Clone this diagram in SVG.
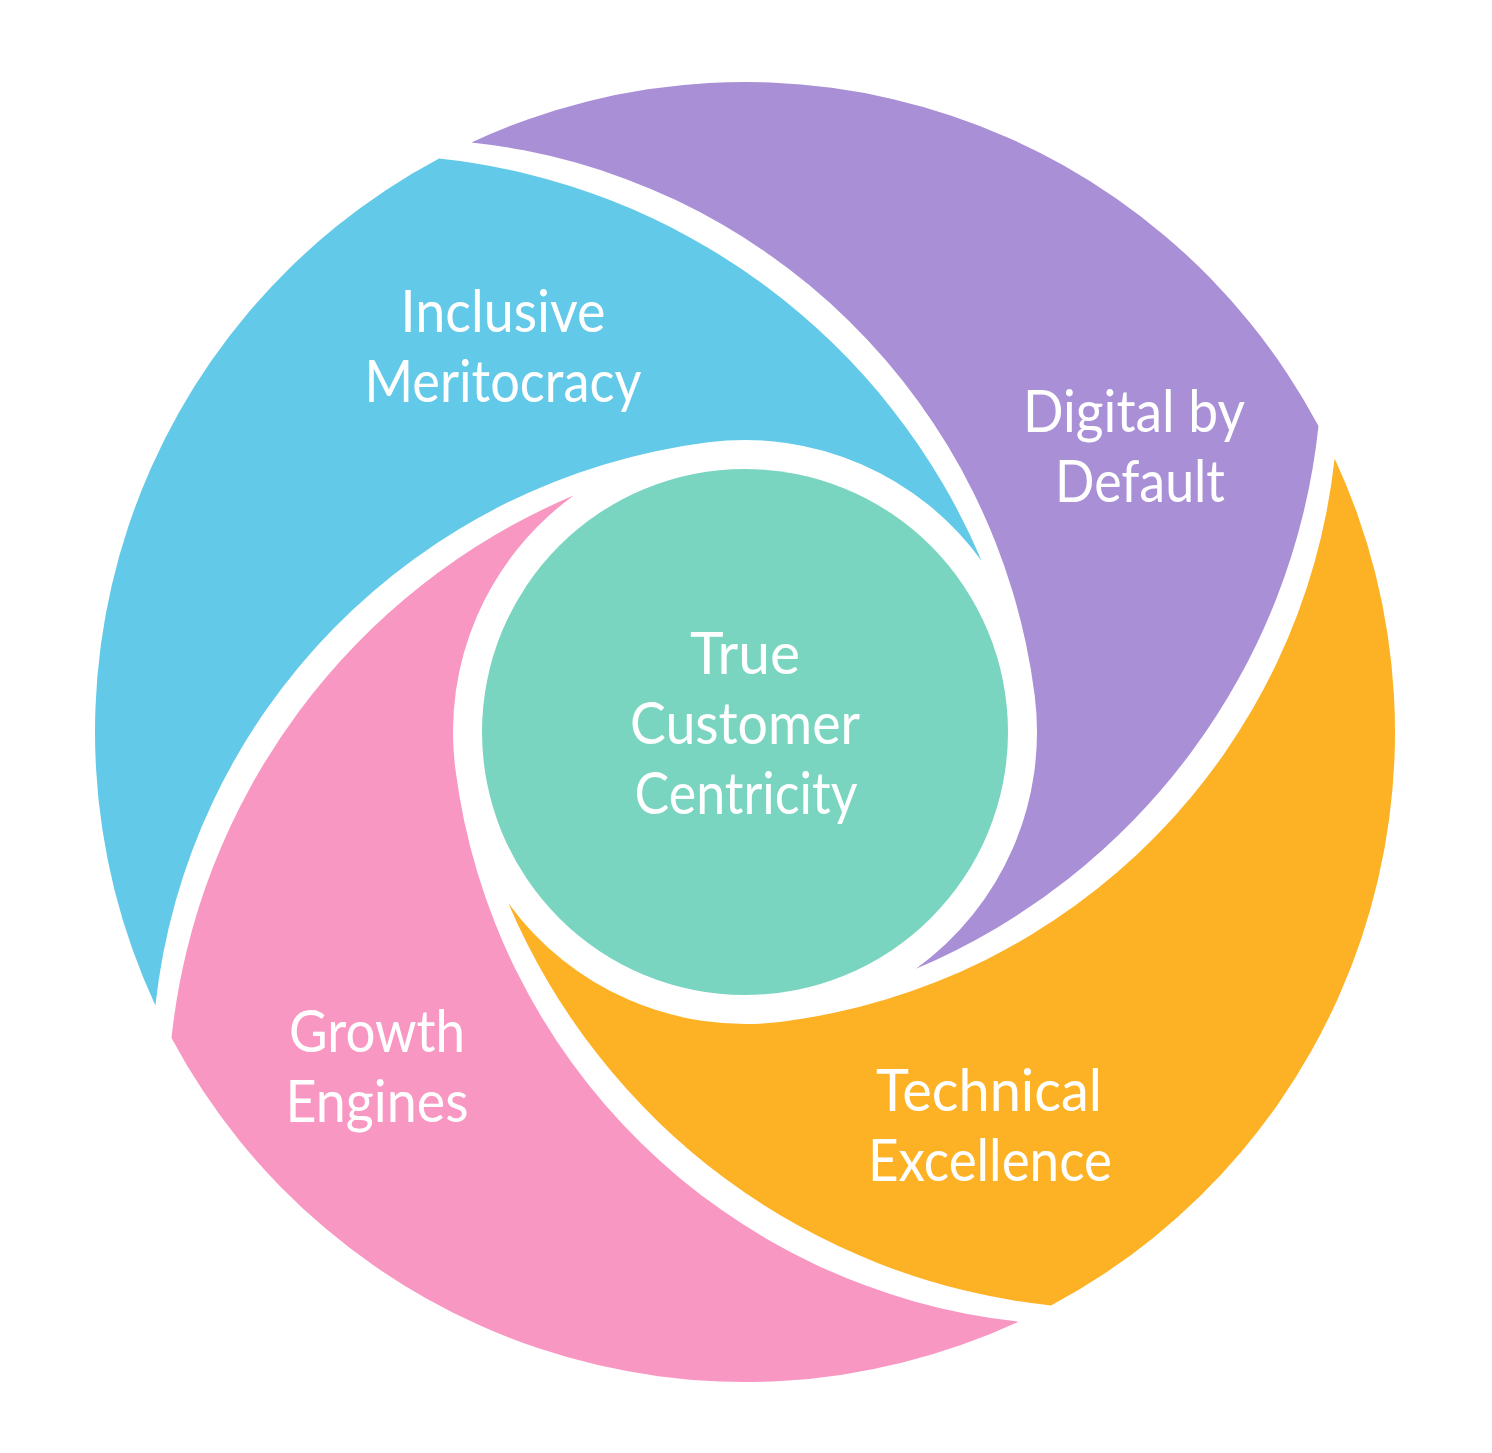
<svg xmlns="http://www.w3.org/2000/svg" width="1492" height="1453" viewBox="0 0 1492 1453">
  <defs>
    <style>
      .lbl { font-family: Lato, "Open Sans", "Liberation Sans", sans-serif; font-size: 58px; fill: #ffffff; text-anchor: middle; }
    </style>
    <path id="seg" d="M -589.6 273.6 A 650 650 0 0 1 -305.98 -573.5 A 665.5 665.5 0 0 1 236.73 -170.95 A 292 292 0 0 0 -36.84 -289.67 A 636.8 636.8 0 0 0 -589.6 273.6 Z"/>
  </defs>
  <rect width="1492" height="1453" fill="#ffffff"/>

  <g id="inclusive-meritocracy">
    <use href="#seg" transform="translate(745 732)" fill="#63C9E8"/>
    <text class="lbl"><tspan x="503" y="332" textLength="205" lengthAdjust="spacingAndGlyphs">Inclusive</tspan><tspan x="503" y="402" textLength="277" lengthAdjust="spacingAndGlyphs">Meritocracy</tspan></text>
  </g>

  <g id="digital-by-default">
    <use href="#seg" transform="translate(745 732) rotate(90)" fill="#A98FD6"/>
    <text class="lbl"><tspan x="1134" y="432" textLength="222" lengthAdjust="spacingAndGlyphs">Digital by</tspan><tspan x="1140" y="502" textLength="170" lengthAdjust="spacingAndGlyphs">Default</tspan></text>
  </g>

  <g id="technical-excellence">
    <use href="#seg" transform="translate(745 732) rotate(180)" fill="#FDB225"/>
    <text class="lbl"><tspan x="989" y="1111" textLength="226" lengthAdjust="spacingAndGlyphs">Technical</tspan><tspan x="990" y="1181" textLength="244" lengthAdjust="spacingAndGlyphs">Excellence</tspan></text>
  </g>

  <g id="growth-engines">
    <use href="#seg" transform="translate(745 732) rotate(270)" fill="#F997C3"/>
    <text class="lbl"><tspan x="377" y="1052" textLength="176" lengthAdjust="spacingAndGlyphs">Growth</tspan><tspan x="377" y="1122" textLength="183" lengthAdjust="spacingAndGlyphs">Engines</tspan></text>
  </g>

  <g id="true-customer-centricity">
    <circle cx="745" cy="732" r="263" fill="#7AD5C0"/>
    <text class="lbl"><tspan x="745" y="674" textLength="110" lengthAdjust="spacingAndGlyphs">True</tspan><tspan x="745" y="744" textLength="230" lengthAdjust="spacingAndGlyphs">Customer</tspan><tspan x="746" y="814" textLength="223" lengthAdjust="spacingAndGlyphs">Centricity</tspan></text>
  </g>
</svg>
